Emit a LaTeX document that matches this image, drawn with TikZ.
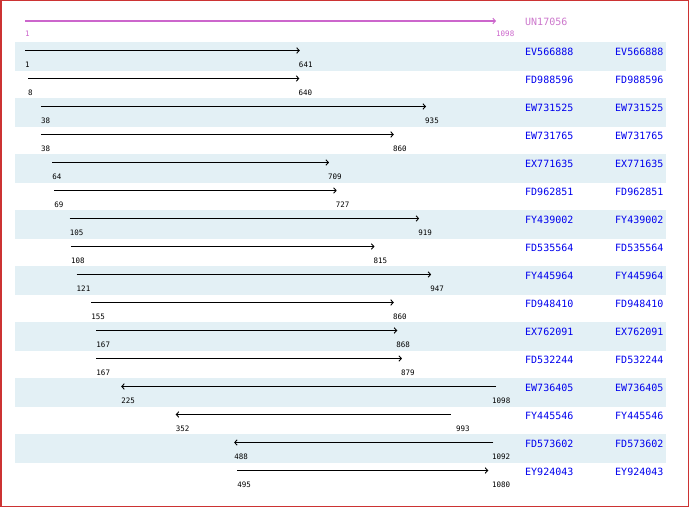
\documentclass[tikz,border=0pt]{standalone}
\usepackage{fontspec}
\newfontfamily\pixfont{DejaVu Sans Mono}
\usetikzlibrary{arrows.meta}
\definecolor{bandcol}{HTML}{E3F0F5}
\definecolor{namecol}{HTML}{0000EE}
\definecolor{topcol}{HTML}{CC66CC}
\definecolor{topname}{HTML}{CC77CC}
\definecolor{framecol}{HTML}{CC3333}
\tikzset{
  band/.style={fill=bandcol,draw=none},
  hitarrow/.style={line width=1pt,black,-{Straight Barb[length=2.5pt,width=5.5pt,line width=0.9pt]}},
  toparrow/.style={line width=2pt,topcol,-{Straight Barb[length=2.5pt,width=5.5pt,line width=1pt]}},
  numlabel/.style={anchor=west,inner sep=0pt,font=\pixfont\fontsize{7.5}{9}\selectfont},
  namelabel/.style={anchor=west,inner sep=0pt,text=namecol,font=\pixfont\fontsize{10}{12}\selectfont},
}
\begin{document}
\begin{tikzpicture}[x=1pt,y=-1pt]
\useasboundingbox (0,0) rectangle (690,508);
\fill[white] (0,0) rectangle (690,508);
% bands
\foreach \i in {1,3,...,15}{
  \fill[band] (15,{42+28*(\i-1)}) rectangle (666,{71+28*(\i-1)});
}
% top query row
\coordinate (ts) at (25,21);
\coordinate (te) at (496,21);
\draw[toparrow] (ts) -- (te);
\node[numlabel,text=topcol] (tl1) at (25,34) {1};
\node[numlabel,text=topcol] (tl2) at (496,34) {1098};
\node[namelabel,text=topname] (tn) at (525,22) {UN17056};
% hits
\foreach \i/\nm/\a/\b/\rev/\off in {
  1/EV566888/1/641/0/-1,
  2/FD988596/8/640/0/-1,
  3/EW731525/38/935/0/-1,
  4/EW731765/38/860/0/-1,
  5/EX771635/64/709/0/-1,
  6/FD962851/69/727/0/-1,
  7/FY439002/105/919/0/-1,
  8/FD535564/108/815/0/-1,
  9/FY445964/121/947/0/-1,
  10/FD948410/155/860/0/-1,
  11/EX762091/167/868/0/-1,
  12/FD532244/167/879/0/-1,
  13/EW736405/225/1098/1/-4,
  14/FY445546/352/993/1/5,
  15/FD573602/488/1092/1/-1.5,
  16/EY924043/495/1080/0/3.7}{
  \pgfmathsetmacro\xa{25+(\a-1)*0.42935}
  \pgfmathsetmacro\xb{25+(\b-1)*0.42935}
  \pgfmathsetmacro\yl{50.5+28*(\i-1)}
  \pgfmathsetmacro\yn{52+28*(\i-1)}
  \pgfmathsetmacro\yt{64.5+28*(\i-1)}
  \coordinate (s\i) at (\xa,\yl);
  \coordinate (e\i) at (\xb,\yl);
  \ifnum\rev=1
    \draw[hitarrow] (e\i) -- (s\i);
  \else
    \draw[hitarrow] (s\i) -- (e\i);
  \fi
  \node[numlabel] (la\i) at (\xa,\yt) {\a};
  \node[numlabel] (lb\i) at ({\xb+\off},\yt) {\b};
  \node[namelabel] (na\i) at (525,\yn) {\nm};
  \node[namelabel] (nb\i) at (615,\yn) {\nm};
}
% frame
\draw[framecol,line width=1.5pt] (0.75,0.75) rectangle (688.7,506.7);
\end{tikzpicture}
\end{document}
